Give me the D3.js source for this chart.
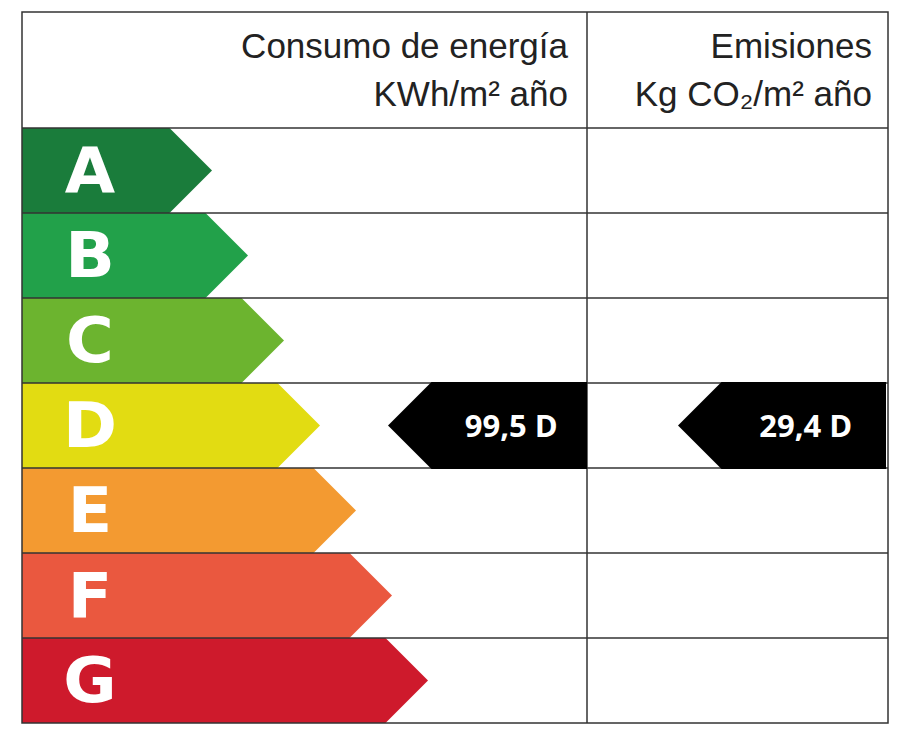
<!DOCTYPE html><html><head><meta charset="utf-8"><script src="https://cdn.jsdelivr.net/npm/d3@7"></script>
<style>body{margin:0;background:#fff}</style></head><body><svg id="c" width="906" height="743"></svg><script>
const classes=["A","B","C","D","E","F","G"];
const colors=["#1a7c3b","#22a14a","#6cb42f","#e2dc12","#f39a31","#ea583f","#ce1a2c"];
const arrowLen=[190,226,262,298,334,370,406];
const ratings=[{col:0,cls:"D",label:"99,5 D"},{col:1,cls:"D",label:"29,4 D"}];
const headers=[["Consumo de energía","KWh/m² año"],["Emisiones","Kg CO₂/m² año"]];
const svg=d3.select("#c");
const L=22,R=888,T=12,H=128,B=723,MID=587;
const y=d3.scaleBand().domain(classes).range([H,B]);
const x=d3.scaleLinear().domain([0,1]).range([0,1]);
// arrows
classes.forEach((c,i)=>{
 const y0=y(c),h=y.bandwidth(),len=arrowLen[i],tip=h/2;
 svg.append("path").attr("d",`M${L},${y0}H${L+len-tip}L${L+len},${y0+h/2}L${L+len-tip},${y0+h}H${L}Z`).attr("fill",colors[i]);
 svg.append("text").attr("x",90).attr("y",y0+h/2+22).attr("text-anchor","middle").attr("fill","#fff")
  .attr("font-family","DejaVu Sans").attr("font-weight","bold").attr("font-size",62).attr("transform",`translate(90,0) scale(1.05,1) translate(-90,0)`).text(c);
});
// grid
const g=svg.append("g").attr("stroke","#333").attr("stroke-width",1.5);
g.append("rect").attr("x",L).attr("y",T).attr("width",R-L).attr("height",B-T).attr("fill","none");
g.append("line").attr("x1",MID).attr("x2",MID).attr("y1",T).attr("y2",B);
[H,...classes.slice(1).map(c=>y(c))].forEach(v=>g.append("line").attr("x1",L).attr("x2",R).attr("y1",v).attr("y2",v));
// headers
const hx=[568,872];
headers.forEach((h,i)=>{
 svg.append("text").attr("x",hx[i]).attr("y",58).attr("text-anchor","end").attr("font-family","Liberation Sans").attr("font-size",35).attr("fill","#222").text(h[0]);
 svg.append("text").attr("x",hx[i]).attr("y",106).attr("text-anchor","end").attr("font-family","Liberation Sans").attr("font-size",35).attr("fill","#222").text(h[1]);
});
// rating arrows
const rx=[[388,587],[678,886]];
ratings.forEach(r=>{
 const y0=y(r.cls)-1,h=y.bandwidth()+2,[a,b]=rx[r.col],t=h/2;
 svg.append("path").attr("d",`M${a},${y0+h/2}L${a+t},${y0}H${b}V${y0+h}H${a+t}Z`).attr("fill","#000");
 svg.append("text").attr("x",(a+t+b)/2+2).attr("y",y0+h/2+11).attr("text-anchor","middle").attr("fill","#fff")
  .attr("font-family","Open Sans").attr("font-weight","bold").attr("font-size",31).text(r.label);
});
</script></body></html>
